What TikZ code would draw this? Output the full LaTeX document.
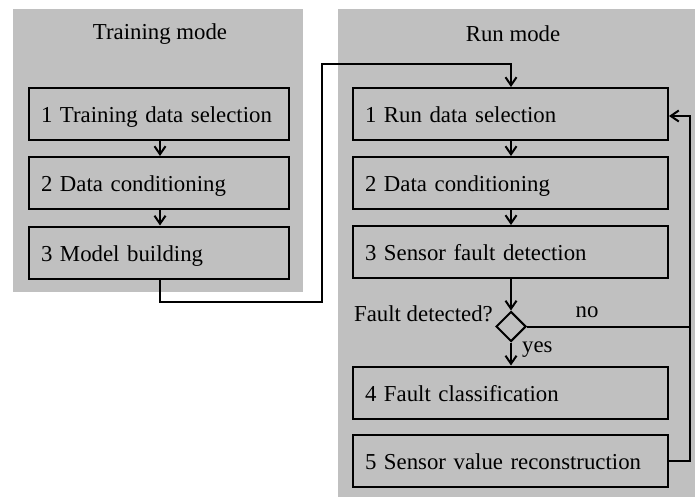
\documentclass[tikz,border=0pt]{standalone}
\usepackage{fontspec}
\setmainfont{Liberation Serif}
\usetikzlibrary{arrows.meta,shapes.geometric}
\definecolor{panelgray}{RGB}{192,192,192}
\tikzset{
  panel/.style={fill=panelgray,draw=none},
  stepbox/.style={draw=black,line width=2pt,fill=panelgray,minimum height=52pt,inner xsep=12pt,inner ysep=0pt,align=left,anchor=center,text height=19pt,text depth=2pt},
  trbox/.style={stepbox,text width=236pt},
  runbox/.style={stepbox,text width=291pt},
  conn/.style={line width=2pt,draw=black},
  arr/.style={conn,-{Straight Barb[length=8pt,width=11pt,line width=2pt]}},
  lbl/.style={inner sep=0pt}
}
\begin{document}
\begin{tikzpicture}[x=1pt,y=-1pt,font=\fontsize{22.8}{27}\selectfont]
\useasboundingbox (0,0) rectangle (695,497);
\fill[panel] (13,9) rectangle (303,292);
\fill[panel] (338,9) rectangle (695,497);
\node[lbl] (ttitle) at (160,34) {Training mode};
\node[lbl] (rtitle) at (513,34) {Run mode};
% training boxes
\node[trbox] (t1) at (159,114) {1 Training data selection};
\node[trbox] (t2) at (159,183) {2 Data conditioning};
\node[trbox] (t3) at (159,252.5) {3 Model building};
% run boxes
\node[runbox] (r1) at (510.5,114) {1 Run data selection};
\node[runbox] (r2) at (510.5,183) {2 Data conditioning};
\node[runbox] (r3) at (510.5,252) {3 Sensor fault detection};
\node[runbox] (r4) at (510.5,392.5) {4 Fault classification};
\node[runbox] (r5) at (510.5,461) {5 Sensor value reconstruction};
\node[diamond,draw=black,line width=2pt,fill=panelgray,minimum width=30pt,minimum height=30pt,inner sep=0pt,aspect=1] (d) at (511,326.5) {};
\node[lbl,anchor=east] (fd) at (493,314) {Fault detected?};
\node[lbl] (no) at (587,312) {no};
\node[lbl,anchor=west] (yes) at (522,350) {yes};
\coordinate (c1) at (160,302);
\coordinate (c2) at (322,302);
\coordinate (c3) at (322,64);
\coordinate (c4) at (511,64);
\coordinate (fb) at (690,116);
% arrows
\draw[arr] (t1.south -| 160,0) -- (t2.north -| 160,0);
\draw[arr] (t2.south -| 160,0) -- (t3.north -| 160,0);
\draw[arr] (t3.south -| c1) -- (c1) -- (c2) -- (c3) -- (c4) -- (r1.north -| c4);
\draw[arr] (r1.south -| c4) -- (r2.north -| c4);
\draw[arr] (r2.south -| c4) -- (r3.north -| c4);
\draw[arr] (r3.south -| d) -- (d.north);
\draw[arr] (d.south) -- (r4.north -| d);
\draw[arr] (d.east) -- (d.east -| fb) -- (fb) -- (r1.east |- fb);
\draw[conn] (r5.east) -- (r5.east -| fb) -- (d.east -| fb);
\end{tikzpicture}
\end{document}
